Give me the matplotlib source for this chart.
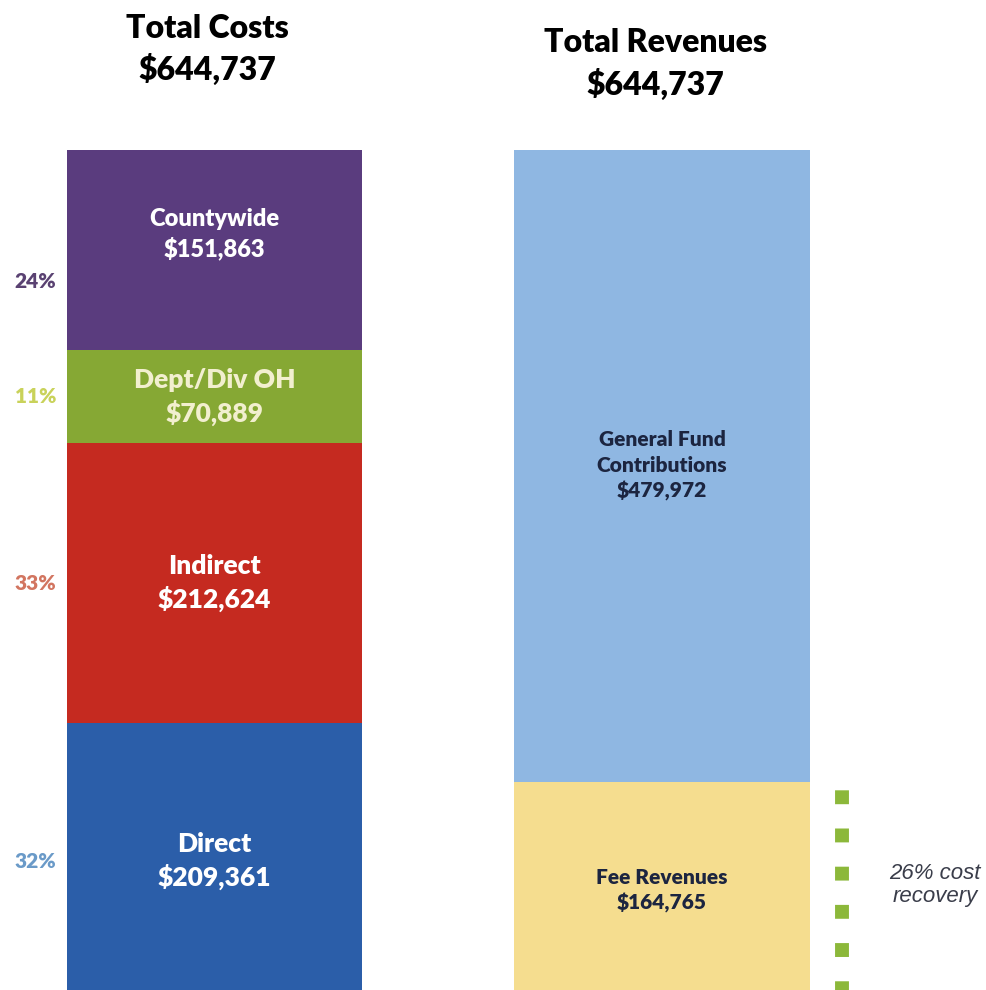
import numpy as np
import matplotlib
matplotlib.use("Agg")
import matplotlib.pyplot as plt

# cost side (bottom -> top)
cost_names = ["Direct", "Indirect", "Dept/Div OH", "Countywide"]
cost_vals = [209361, 212624, 70889, 151863]
cost_colors = ["#2b5ea9", "#c52a20", "#86a834", "#5a3c7e"]
cost_text = ["white", "white", "#f2efcf", "white"]
pct_colors = ["#6a9ac8", "#d27560", "#c9d25a", "#5a4272"]

# revenue side (bottom -> top)
rev_names = ["Fee Revenues", "General Fund\nContributions"]
rev_vals = [164765, 479972]
rev_colors = ["#f5dd8f", "#8fb7e2"]

total_cost = sum(cost_vals)
total_rev = sum(rev_vals)

plt.rcParams["font.family"] = ["Lato", "DejaVu Sans"]

fig = plt.figure(figsize=(9.87, 9.90), dpi=100)
ax = fig.add_axes([0, -0.009, 1, 0.8576])
ax.set_xlim(-0.479, 1.726)
ax.set_ylim(0, total_cost)
ax.axis("off")

w = 0.66
bottom = 0
for name, v, c, tc, pc in zip(cost_names, cost_vals, cost_colors, cost_text, pct_colors):
    ax.bar(0, v, width=w, bottom=bottom, color=c)
    mid = bottom + v / 2
    fs = 17 if name == "Countywide" else 19
    dy = 16 if name == "Countywide" else 0
    ax.annotate(f"{name}\n${v:,}", (0, mid), xytext=(0, dy), textcoords="offset pixels",
                ha="center", va="center", color=tc, fontsize=fs,
                fontweight="heavy", linespacing=1.35)
    ax.annotate(f"{v / total_cost:.0%}", (-0.40, mid), xytext=(0, -dy * 2),
                textcoords="offset pixels", ha="center", va="center",
                color=pc, fontsize=15, fontweight="heavy")
    bottom += v

bottom = 0
for name, v, c in zip(rev_names, rev_vals, rev_colors):
    ax.bar(1, v, width=w, bottom=bottom, color=c)
    ax.text(1, bottom + v / 2, f"{name}\n${v:,}", ha="center", va="center",
            color="#1c2540", fontsize=15, fontweight="heavy", linespacing=1.4)
    bottom += v

# dotted cost-recovery marker next to fee revenues
ax.vlines(1.402, 0, rev_vals[0], color="#8cb83a", linewidth=10,
          linestyles=(0.3, (1, 1.75)))
ax.text(1.61, rev_vals[0] / 2 + 4000, f"{rev_vals[0] / total_cost:.0%} cost\nrecovery",
        ha="center", va="center", color="#3a3d4a", fontsize=16, style="italic",
        family=["Liberation Sans Narrow", "Liberation Sans", "DejaVu Sans"],
        linespacing=1.15)

fig.text(0.21, 0.95, f"Total Costs\n${total_cost:,}", ha="center", va="center",
         fontsize=23, fontweight="heavy", linespacing=1.4)
fig.text(0.664, 0.935, f"Total Revenues\n${total_rev:,}", ha="center", va="center",
         fontsize=23, fontweight="heavy", linespacing=1.4)

fig.savefig("out.png", dpi=100)
